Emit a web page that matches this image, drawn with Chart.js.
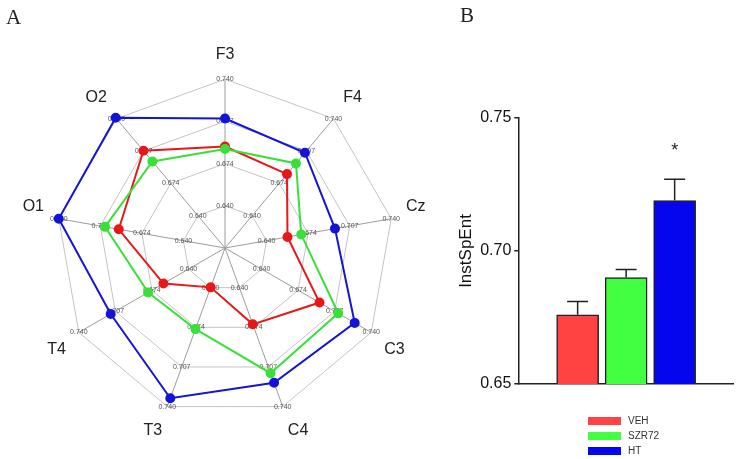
<!DOCTYPE html>
<html>
<head>
<meta charset="utf-8">
<script src="https://cdn.jsdelivr.net/npm/chart.js@4.4.1/dist/chart.umd.min.js"></script>
<style>
  html, body { margin: 0; padding: 0; background: #fff; }
  #wrap { position: relative; width: 738px; height: 459px; overflow: hidden; font-family: "Liberation Sans", Arial, sans-serif; }
  .panel { position: absolute; top: 0; height: 459px; }
  #radarBox { left: 0; width: 445px; }
  #barBox { left: 440px; width: 298px; }
  .tag { position: absolute; font-family: "Liberation Serif", "Times New Roman", serif; font-size: 21px; color: #222; }
  #legend { position: absolute; left: 588px; top: 413px; font-size: 10px; color: #333; }
  #legend div { height: 15px; display: flex; align-items: center; }
  #legend span.box { display: inline-block; width: 33px; height: 8px; margin-right: 7px; }
</style>
</head>
<body>
<div id="wrap">
  <div class="panel" id="radarBox"><canvas id="radarChart"></canvas></div>
  <div class="panel" id="barBox"><canvas id="barChart"></canvas></div>
  <div class="tag" style="left:6px; top:5px;">A</div>
  <div class="tag" style="left:460px; top:3px;">B</div>
  <div id="legend"></div>
</div>
<script>
  // Panel A - radar of InstSpEnt per electrode
  const electrodes = ['F3', 'F4', 'Cz', 'C3', 'C4', 'T3', 'T4', 'O1', 'O2'];
  const vehValues = [0.687, 0.683, 0.657, 0.693, 0.671, 0.640, 0.663, 0.692, 0.707];
  const szrValues = [0.685, 0.694, 0.668, 0.710, 0.712, 0.675, 0.677, 0.703, 0.696];
  const htValues = [0.709, 0.705, 0.695, 0.725, 0.720, 0.733, 0.711, 0.740, 0.741];
  const radarTickLabels = ['0.640', '0.674', '0.707', '0.740'];
  const radarMin = 0.607;
  const radarMax = 0.740;

  // Panel B - group means
  const groups = ['VEH', 'SZR72', 'HT'];
  const groupMeans = [0.676, 0.690, 0.719];
  const groupErrors = [0.005, 0.003, 0.008];
  const sigMarks = ['', '', '*'];
  const yTicks = [0.65, 0.70, 0.75];

  const radarColors = ['#e81818', '#38e038', '#1414d8'];
  const barColors = ['#ff4242', '#42ff42', '#0505ee'];

  Chart.defaults.font.family = '"Liberation Sans", Arial, sans-serif';
  Chart.defaults.animation = false;

  // tick values written on every spoke, not only the first one
  const spokeTicks = {
    id: 'spokeTicks',
    beforeDatasetsDraw(chart) {
      const r = chart.scales.r;
      const ctx = chart.ctx;
      ctx.save();
      ctx.font = '7px "Liberation Sans", Arial, sans-serif';
      ctx.fillStyle = '#555';
      ctx.textAlign = 'center';
      ctx.textBaseline = 'middle';
      r.ticks.slice(1).forEach((t, k) => {
        for (let i = 0; i < electrodes.length; i++) {
          const p = r.getPointPositionForValue(i, t.value);
          ctx.fillText(radarTickLabels[k], p.x, p.y);
        }
      });
      ctx.restore();
    }
  };

  const makeSet = (label, values, color, order) => ({
    label: label,
    data: values,
    borderColor: color,
    backgroundColor: color,
    pointBackgroundColor: color,
    pointBorderColor: color,
    pointRadius: 4,
    borderWidth: 2,
    fill: false,
    order: order
  });

  new Chart(document.getElementById('radarChart'), {
    type: 'radar',
    data: {
      labels: electrodes,
      datasets: [
        makeSet(groups[0], vehValues, radarColors[0], 3),
        makeSet(groups[1], szrValues, radarColors[1], 2),
        makeSet(groups[2], htValues, radarColors[2], 1)
      ]
    },
    options: {
      responsive: true,
      maintainAspectRatio: false,
      layout: { padding: { left: 17, right: 13, top: 40, bottom: 13 } },
      plugins: { legend: { display: false }, tooltip: { enabled: false } },
      scales: {
        r: {
          min: radarMin,
          max: radarMax,
          ticks: { count: 5, display: false },
          grid: { color: '#c4c4c4', lineWidth: 1 },
          angleLines: { color: '#9c9c9c', lineWidth: 1 },
          pointLabels: {
            padding: 15,
            color: '#222',
            font: { size: 16 }
          }
        }
      }
    },
    plugins: [spokeTicks]
  });

  // error bars and significance star
  const errorBars = {
    id: 'errorBars',
    afterDatasetsDraw(chart) {
      const y = chart.scales.y;
      const ctx = chart.ctx;
      const meta = chart.getDatasetMeta(0);
      ctx.save();
      ctx.strokeStyle = '#222';
      ctx.lineWidth = 1.5;
      meta.data.forEach((bar, i) => {
        const top = y.getPixelForValue(groupMeans[i] + groupErrors[i]);
        ctx.beginPath();
        ctx.moveTo(bar.x, bar.y);
        ctx.lineTo(bar.x, top);
        ctx.moveTo(bar.x - 10.5, top);
        ctx.lineTo(bar.x + 10.5, top);
        ctx.stroke();
        if (sigMarks[i]) {
          ctx.fillStyle = '#222';
          ctx.font = '18px "Liberation Sans", Arial, sans-serif';
          ctx.textAlign = 'center';
          ctx.textBaseline = 'alphabetic';
          ctx.fillText(sigMarks[i], bar.x, top - 23);
        }
      });
      ctx.restore();
    }
  };

  new Chart(document.getElementById('barChart'), {
    type: 'bar',
    data: {
      datasets: [{
        label: 'InstSpEnt',
        data: groupMeans.map((v, i) => ({ x: i, y: v })),
        backgroundColor: barColors,
        borderColor: '#222',
        borderWidth: 1.5,
        barThickness: 42
      }]
    },
    options: {
      responsive: true,
      maintainAspectRatio: false,
      layout: { padding: { left: 12, right: 5, top: 118, bottom: 75 } },
      plugins: { legend: { display: false }, tooltip: { enabled: false } },
      scales: {
        x: {
          type: 'linear',
          min: -0.67,
          max: 2.65,
          ticks: { display: false },
          grid: { display: false, drawTicks: false },
          border: { display: true, color: '#222', width: 1.5 },
          afterFit(s) { s.height = 0; }
        },
        y: {
          min: 0.65,
          max: 0.75,
          afterBuildTicks(s) { s.ticks = yTicks.map(v => ({ value: v })); },
          afterFit(s) { s.width = 66.3; },
          ticks: {
            padding: 3,
            color: '#111',
            font: { size: 16 },
            callback: v => v.toFixed(2)
          },
          grid: { drawOnChartArea: false, drawTicks: true, tickLength: 4, color: '#222', lineWidth: 1.5 },
          border: { display: true, color: '#222', width: 1.5 },
          title: {
            display: true,
            text: 'InstSpEnt',
            color: '#111',
            font: { size: 17 }
          }
        }
      }
    },
    plugins: [errorBars]
  });

  // legend stacked under panel B
  const legend = document.getElementById('legend');
  groups.forEach((g, i) => {
    const row = document.createElement('div');
    row.innerHTML = '<span class="box" style="background:' + barColors[i] + '"></span>' + g;
    legend.appendChild(row);
  });
</script>
</body>
</html>
